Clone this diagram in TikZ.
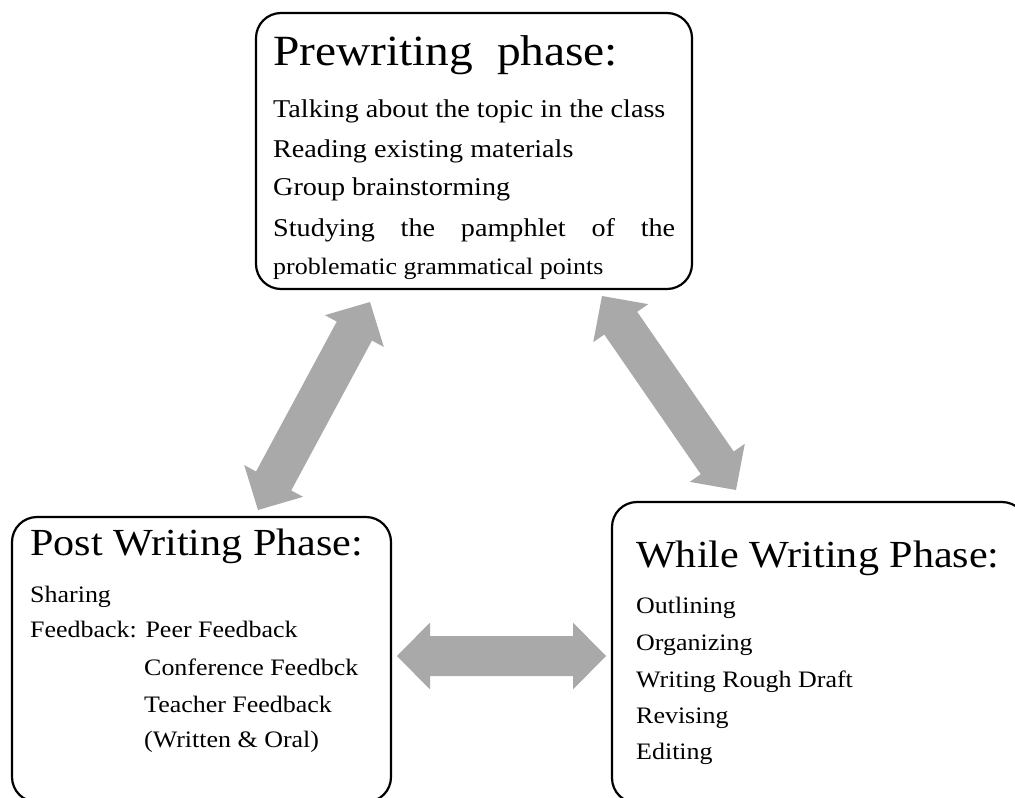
\documentclass[tikz,border=0pt]{standalone}
\usepackage{fontspec}
\setmainfont[FakeStretch=1.1]{Liberation Serif}
\usetikzlibrary{calc}
\definecolor{arrowgray}{HTML}{A9A9A9}
\tikzset{
  phase/.style={draw=black, line width=2.2pt, rounded corners=25pt, inner sep=0pt},
  txt/.style={anchor=base west, inner sep=0pt},
  ttl/.style={txt, font=\fontsize{38.3}{40}\selectfont},
  bigttl/.style={txt, font=\fontsize{43.1}{44}\selectfont},
  itm/.style={txt, font=\fontsize{23.6}{25}\selectfont},
  bigitm/.style={txt, font=\fontsize{25.6}{27}\selectfont},
}
\newcommand{\dblarrow}[2]{%
  \fill[arrowgray] (#1) -- ($(#1)!47pt!45.4:(#2)$) -- ($(#1)!38.59pt!31.22:(#2)$)
    -- ($(#2)!38.59pt!-31.22:(#1)$) -- ($(#2)!47pt!-45.4:(#1)$) -- (#2)
    -- ($(#2)!47pt!45.4:(#1)$) -- ($(#2)!38.59pt!31.22:(#1)$)
    -- ($(#1)!38.59pt!-31.22:(#2)$) -- ($(#1)!47pt!-45.4:(#2)$) -- cycle;}
\begin{document}
\begin{tikzpicture}[x=1pt,y=-1pt]
\useasboundingbox (0,0) rectangle (1015,798);
\clip (0,0) rectangle (1015,798);
% boxes
\node[phase, minimum width=436pt, minimum height=276pt] (pre) at (474,151) {};
\node[phase, minimum width=379pt, minimum height=285pt] (post) at (201.5,659.5) {};
\node[phase, minimum width=415pt, minimum height=301pt] (while) at (819.5,652.5) {};
% prewriting texts
\node[bigttl] (preT) at (273,65) {Prewriting\ \ phase:};
\node[bigitm] (pre1) at (273,117) {Talking about the topic in the class};
\node[bigitm] (pre2) at (273,157) {Reading existing materials};
\node[bigitm] (pre3) at (273,195) {Group brainstorming};
\node[bigitm] (pre4) at (273,236) {\makebox[402pt][s]{Studying the pamphlet of the}};
\node[itm] (pre5) at (273,274) {problematic grammatical points};
% post writing texts
\node[ttl] (postT) at (30,555) {Post Writing Phase:};
\node[itm] (post1) at (30,602) {Sharing};
\node[itm] (post2) at (30,637) {Feedback: Peer Feedback};
\node[itm] (post3) at (144,675) {Conference Feedbck};
\node[itm] (post4) at (144,712) {Teacher Feedback};
\node[itm] (post5) at (144,747) {(Written \& Oral)};
% while writing texts
\node[ttl] (whileT) at (636,567) {While Writing Phase:};
\node[itm] (while1) at (636,613) {Outlining};
\node[itm] (while2) at (636,650) {Organizing};
\node[itm] (while3) at (636,687) {Writing Rough Draft};
\node[itm] (while4) at (636,723) {Revising};
\node[itm] (while5) at (636,759) {Editing};
% arrow end points
\coordinate (la) at (370,302);
\coordinate (lb) at (258,510);
\coordinate (ra) at (602,296);
\coordinate (rb) at (736,490);
\coordinate (ha) at (397,656);
\coordinate (hb) at (606,656);
\dblarrow{la}{lb}
\dblarrow{ra}{rb}
\dblarrow{ha}{hb}
\end{tikzpicture}
\end{document}
